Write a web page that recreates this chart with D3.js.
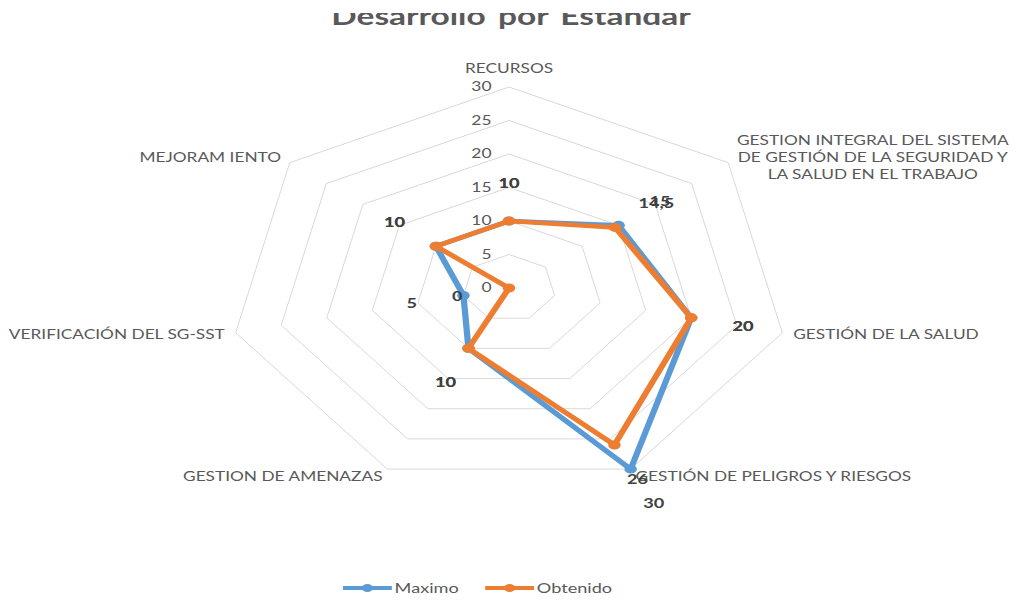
<!DOCTYPE html>
<html><head><meta charset="utf-8">
<script src="https://cdn.jsdelivr.net/npm/d3@7"></script>
<style>
body{margin:0;background:#fff;}
svg{display:block;}
text{font-family:Lato,"Open Sans",sans-serif;}
</style>
</head><body>
<svg id="chart" width="1020" height="602"></svg>
<script>
const titleText = "Desarrollo por Estandar";
const categories = [
  "RECURSOS",
  "GESTION INTEGRAL DEL SISTEMA\nDE GESTIÓN DE LA SEGURIDAD Y\nLA SALUD EN EL TRABAJO",
  "GESTIÓN DE LA SALUD",
  "GESTIÓN DE PELIGROS Y RIESGOS",
  "GESTION DE AMENAZAS",
  "VERIFICACIÓN DEL SG-SST",
  "MEJORAM IENTO"
];
const seriesNames = ["Maximo", "Obtenido"];
const maximo   = [10, 15, 20, 30, 10, 5, 10];
const obtenido = [10, 14.5, 20, 26, 10, 0, 10];
const tickValues = [0, 5, 10, 15, 20, 25, 30];

const colors = ["#5B9BD5", "#ED7D31"];
const CX = 509, CY = 288, SX = 1.395, R = 201;
const n = categories.length;

const svg = d3.select("#chart");
const rScale = d3.scaleLinear().domain([0, 30]).range([0, R]);
const aScale = d3.scaleLinear().domain([0, n]).range([0, 2 * Math.PI]);
const dir = i => [Math.sin(aScale(i)), -Math.cos(aScale(i))];
const fmt = v => String(v).replace(".", ",");

// title (top part hidden as in the reference crop)
svg.append("defs").append("clipPath").attr("id", "titleClip")
  .append("rect").attr("x", 0).attr("y", 13).attr("width", 1020).attr("height", 30);
svg.append("g").attr("clip-path", "url(#titleClip)")
  .append("g").attr("transform", `translate(511,25) scale(${SX},1)`)
  .append("text").attr("text-anchor", "middle").attr("font-size", 24)
  .attr("font-weight", "bold").attr("fill", "#595959").attr("word-spacing", 3)
  .text(titleText);

const root = svg.append("g").attr("transform", `translate(${CX},${CY}) scale(${SX},1)`);

// grid
const gridLine = d3.lineRadial().angle((d, i) => aScale(i)).radius(d => rScale(d)).curve(d3.curveLinearClosed);
root.append("g").selectAll("path").data(tickValues.filter(t => t > 0)).join("path")
  .attr("d", t => gridLine(categories.map(() => t)))
  .attr("fill", "none").attr("stroke", "#d9d9d9").attr("stroke-width", 1)
  .attr("vector-effect", "non-scaling-stroke");

// tick labels
root.append("g").selectAll("text").data(tickValues).join("text")
  .attr("x", -12.5).attr("y", t => -rScale(t)).attr("dy", "0.35em")
  .attr("text-anchor", "end").attr("font-size", 12.5).attr("fill", "#595959")
  .text(t => t);

// category labels
const catG = root.append("g");
categories.forEach((c, i) => {
  const [dx, dy] = dir(i);
  const lines = c.split("\n");
  const t = catG.append("text").attr("font-size", 12.4).attr("fill", "#595959");
  if (Math.abs(dx) < 0.01) {
    t.attr("text-anchor", "middle").attr("x", 0).attr("y", -R - 14).text(c);
    return;
  }
  const x0 = (R + 8) * dx, y0 = (R + 8) * dy;
  const lh = 17;
  const spans = lines.map((l, k) => t.append("tspan").attr("y", y0 + (k - (lines.length - 1) / 2) * lh).attr("dy", "0.35em").text(l));
  if (lines.length > 1) {
    const w = d3.max(spans, s => s.node().getComputedTextLength());
    t.attr("text-anchor", "middle");
    spans.forEach(s => s.attr("x", dx > 0 ? x0 + w / 2 : x0 - w / 2));
  } else {
    t.attr("text-anchor", dx > 0 ? "start" : "end");
    spans.forEach(s => s.attr("x", x0));
  }
});

// series
const seriesData = [maximo, obtenido];
const line = d3.lineRadial().angle((d, i) => aScale(i)).radius(d => rScale(d)).curve(d3.curveLinearClosed);
seriesData.forEach((vals, s) => {
  const g = root.append("g");
  g.append("path").attr("d", line(vals)).attr("fill", "none")
    .attr("stroke", colors[s]).attr("stroke-width", 4.5).attr("stroke-linejoin", "round");
  g.selectAll("circle").data(vals).join("circle")
    .attr("cx", (d, i) => rScale(d) * dir(i)[0])
    .attr("cy", (d, i) => rScale(d) * dir(i)[1])
    .attr("r", 4.5).attr("fill", colors[s]);
});
// data labels
seriesData.forEach((vals, s) => {
  root.append("g").selectAll("text").data(vals).join("text")
    .attr("x", (d, i) => (rScale(d) + 38) * dir(i)[0])
    .attr("y", (d, i) => (rScale(d) + 38) * dir(i)[1])
    .attr("dy", "0.35em").attr("text-anchor", "middle")
    .attr("font-size", 13).attr("font-weight", "bold").attr("fill", "#404040")
    .text(d => fmt(d));
});

// legend
const leg = svg.append("g").attr("transform", `translate(343,588) scale(${SX},1)`);
let lx = 0;
seriesNames.forEach((name, s) => {
  const g = leg.append("g").attr("transform", `translate(${lx},0)`);
  g.append("line").attr("x1", 0).attr("x2", 35).attr("y1", 0).attr("y2", 0)
    .attr("stroke", colors[s]).attr("stroke-width", 4);
  g.append("circle").attr("cx", 17.5).attr("cy", 0).attr("r", 4).attr("fill", colors[s]);
  const t = g.append("text").attr("x", 37).attr("dy", "0.35em").attr("font-size", 13)
    .attr("fill", "#595959").text(name);
  lx += 37 + t.node().getComputedTextLength() + 19;
});
</script>
</body></html>
